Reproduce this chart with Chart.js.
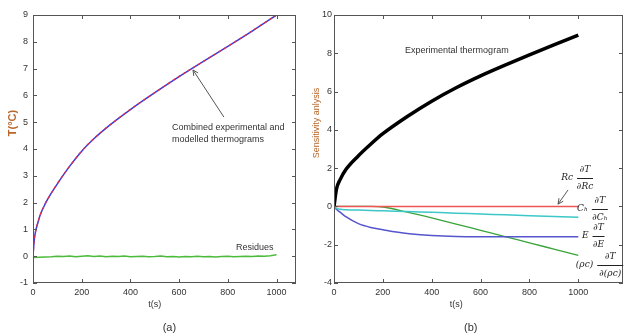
<!DOCTYPE html>
<html>
<head>
<meta charset="utf-8">
<script src="https://cdn.jsdelivr.net/npm/chart.js@4.4.0/dist/chart.umd.min.js"></script>
<style>
  body { margin: 0; background: #fff; }
  #chartA { position: absolute; left: 0; top: 0; }
  #chartB { position: absolute; left: 310px; top: 0; }
</style>
</head>
<body>
<canvas id="chartA" width="310" height="336"></canvas>
<canvas id="chartB" width="315" height="336"></canvas>
<script>
// (a) thermograms
const timeA = [0, 5, 10, 20, 30, 50, 75, 100, 150, 200, 250, 300, 400, 500, 600, 700, 800, 900, 1000];
const tempModel = [0, 0.6, 0.9, 1.25, 1.55, 1.95, 2.35, 2.7, 3.35, 3.92, 4.38, 4.78, 5.47, 6.1, 6.7, 7.27, 7.83, 8.4, 9.0];
const tempExp = [0, 0.62, 0.9, 1.26, 1.55, 1.96, 2.35, 2.71, 3.35, 3.92, 4.39, 4.78, 5.48, 6.1, 6.71, 7.27, 7.83, 8.41, 9.0];
const timeRes = [0, 25, 50, 75, 100, 125, 150, 175, 200, 225, 250, 275, 300, 325, 350, 375, 400, 425, 450, 475, 500,
                 525, 550, 575, 600, 625, 650, 675, 700, 725, 750, 775, 800, 825, 850, 875, 900, 925, 950, 975, 1000];
const residues = [-0.05, -0.04, -0.03, -0.02, 0.0, -0.01, 0.01, -0.02, 0.0, 0.02, -0.01, 0.01, -0.02, 0.0, -0.01, 0.01, -0.02, -0.01, 0.0, -0.02, -0.01,
                  0.01, -0.02, -0.01, -0.03, -0.01, -0.02, 0.0, -0.02, -0.01, -0.03, -0.01, 0.0, -0.02, -0.01, 0.0, -0.01, 0.01, 0.0, 0.02, 0.05];
const xTicksA = [0, 200, 400, 600, 800, 1000];
const yTicksA = [-1, 0, 1, 2, 3, 4, 5, 6, 7, 8, 9];

// (b) sensitivity analysis
const timeB = [0, 10, 25, 50, 100, 150, 200, 300, 400, 500, 600, 700, 800, 900, 1000];
const expThermo = [0, 0.9, 1.4, 1.95, 2.65, 3.25, 3.8, 4.7, 5.5, 6.2, 6.82, 7.38, 7.92, 8.44, 8.95];
const sensRc = [0, 0, 0, 0, 0, 0, 0, 0, 0, 0, 0, 0, 0, 0, 0];
const sensCh = [0, -0.1, -0.15, -0.17, -0.19, -0.21, -0.23, -0.27, -0.31, -0.35, -0.4, -0.44, -0.49, -0.53, -0.57];
const sensE = [0, -0.15, -0.3, -0.55, -0.9, -1.1, -1.22, -1.42, -1.52, -1.57, -1.58, -1.58, -1.58, -1.58, -1.58];
const sensRho = [0, 0, 0, 0, 0, 0, -0.03, -0.3, -0.6, -0.92, -1.25, -1.58, -1.9, -2.23, -2.56];
const xTicksB = [0, 200, 400, 600, 800, 1000];
const yTicksB = [-4, -2, 0, 2, 4, 6, 8, 10];

const pts = (xs, ys) => xs.map((v, i) => ({ x: v, y: ys[i] }));
const tickFont = { family: "'Liberation Sans Narrow', 'Liberation Sans', Arial", size: 9 };

// box round the plot with inward ticks, like matlab
const frame = {
  id: 'frame',
  afterDraw(chart) {
    const { ctx, chartArea: a, scales: { x, y } } = chart;
    ctx.save();
    ctx.strokeStyle = '#555';
    ctx.lineWidth = 1;
    ctx.strokeRect(a.left + 0.5, a.top + 0.5, a.right - a.left - 1, a.bottom - a.top - 1);
    ctx.beginPath();
    x.ticks.forEach(t => {
      const px = Math.round(x.getPixelForValue(t.value)) + 0.5;
      ctx.moveTo(px, a.bottom); ctx.lineTo(px, a.bottom - 4);
      ctx.moveTo(px, a.top); ctx.lineTo(px, a.top + 4);
    });
    y.ticks.forEach(t => {
      const py = Math.round(y.getPixelForValue(t.value)) + 0.5;
      ctx.moveTo(a.left, py); ctx.lineTo(a.left + 4, py);
      ctx.moveTo(a.right, py); ctx.lineTo(a.right - 4, py);
    });
    ctx.stroke();
    ctx.restore();
  }
};

// titles, captions and notes
const notes = {
  id: 'notes',
  afterDraw(chart, args, o) {
    const { ctx, chartArea: a, scales: { x, y } } = chart;
    const X = v => x.getPixelForValue(v), Y = v => y.getPixelForValue(v);
    ctx.save();
    ctx.textBaseline = 'middle';
    // y title
    ctx.save();
    ctx.translate(o.yTitleX, (a.top + a.bottom) / 2 - 26);
    ctx.rotate(-Math.PI / 2);
    ctx.textAlign = 'center';
    ctx.fillStyle = '#b8662a';
    ctx.font = o.yTitleFont;
    ctx.fillText(o.yTitle, 0, 0);
    ctx.restore();
    // x title and caption
    ctx.textAlign = 'center';
    ctx.fillStyle = '#333';
    ctx.font = "9px 'Liberation Sans Narrow', 'Liberation Sans'";
    ctx.fillText('t(s)', X(500), 305);
    ctx.font = "11px 'Liberation Sans', Arial";
    ctx.fillText(o.caption, X(560), 328);
    // plain text notes
    ctx.textAlign = 'left';
    ctx.font = "9px 'Liberation Sans Narrow', 'Liberation Sans'";
    (o.texts || []).forEach(t => ctx.fillText(t.text, X(t.x), Y(t.y)));
    // arrows
    ctx.strokeStyle = '#555';
    ctx.lineWidth = 1;
    (o.arrows || []).forEach(ar => {
      const x0 = X(ar.from[0]), y0 = Y(ar.from[1]), x1 = X(ar.to[0]), y1 = Y(ar.to[1]);
      const ang = Math.atan2(y1 - y0, x1 - x0);
      ctx.beginPath(); ctx.moveTo(x0, y0); ctx.lineTo(x1, y1); ctx.stroke();
      ctx.beginPath();
      ctx.moveTo(x1 - 6 * Math.cos(ang - 0.45), y1 - 6 * Math.sin(ang - 0.45));
      ctx.lineTo(x1, y1);
      ctx.lineTo(x1 - 6 * Math.cos(ang + 0.45), y1 - 6 * Math.sin(ang + 0.45));
      ctx.stroke();
    });
    // derivative labels
    ctx.fillStyle = '#222';
    ctx.strokeStyle = '#222';
    (o.fracs || []).forEach(f => {
      const px = X(f.x), py = Y(f.y);
      ctx.font = "italic 9px 'DejaVu Serif', 'Liberation Serif'";
      ctx.textAlign = 'left';
      ctx.fillText(f.pre, px, py);
      const cx = px + ctx.measureText(f.pre).width + 4 + f.w / 2;
      ctx.textAlign = 'center';
      ctx.fillText('∂T', cx, py - 8);
      ctx.fillText(f.den, cx, py + 9);
      ctx.beginPath();
      ctx.moveTo(cx - f.w / 2, Math.round(py) + 0.5);
      ctx.lineTo(cx + f.w / 2, Math.round(py) + 0.5);
      ctx.stroke();
    });
    ctx.restore();
  }
};

function scalesFor(xMax, xTicks, yMin, yMax, yTicks, yWidth, yPad) {
  return {
    x: {
      type: 'linear', min: 0, max: xMax,
      grid: { display: false, drawTicks: false },
      border: { display: false },
      ticks: { font: tickFont, color: '#333', padding: 4, maxRotation: 0, callback: v => String(v) },
      afterBuildTicks: s => { s.ticks = xTicks.map(v => ({ value: v })); },
      afterFit: s => { s.height = 53; }
    },
    y: {
      type: 'linear', min: yMin, max: yMax,
      grid: { display: false, drawTicks: false },
      border: { display: false },
      ticks: { font: tickFont, color: '#333', padding: yPad, callback: v => String(v) },
      afterBuildTicks: s => { s.ticks = yTicks.map(v => ({ value: v })); },
      afterFit: s => { s.width = yWidth; }
    }
  };
}

const line = (data, color, width, extra) => Object.assign({
  data: data, borderColor: color, borderWidth: width, pointRadius: 0,
  cubicInterpolationMode: 'monotone', fill: false
}, extra || {});

new Chart(document.getElementById('chartA'), {
  type: 'line',
  data: {
    datasets: [
      line(pts(timeA, tempExp), '#e0304a', 1.3, { borderDash: [3, 3] }),
      line(pts(timeA, tempModel), '#3a3ad8', 1.5),
      line(pts(timeRes, residues), '#4cbb3c', 1.5, { cubicInterpolationMode: 'default', tension: 0 })
    ]
  },
  options: {
    responsive: false, animation: false, devicePixelRatio: 1,
    layout: { padding: { top: 15, right: 14, left: 0, bottom: 0 } },
    scales: scalesFor(1080, xTicksA, -1, 9, yTicksA, 33, 5),
    plugins: {
      legend: { display: false }, tooltip: { enabled: false },
      notes: {
        yTitle: 'T(°C)', yTitleX: 13, yTitleFont: "bold 11px 'Liberation Sans', Arial", caption: '(a)',
        texts: [
          { text: 'Combined experimental and', x: 571, y: 4.82 },
          { text: 'modelled thermograms', x: 571, y: 4.34 },
          { text: 'Residues', x: 834, y: 0.34 }
        ],
        arrows: [{ from: [784, 5.19], to: [657, 6.95] }]
      }
    }
  },
  plugins: [frame, notes]
});

new Chart(document.getElementById('chartB'), {
  type: 'line',
  data: {
    datasets: [
      line(pts(timeB, expThermo), '#000', 3.5),
      line(pts(timeB, sensRc), '#f05555', 1.5),
      line(pts(timeB, sensCh), '#3cc8c8', 1.5),
      line(pts(timeB, sensE), '#5555cc', 1.5),
      line(pts(timeB, sensRho), '#3aa43a', 1.3)
    ]
  },
  options: {
    responsive: false, animation: false, devicePixelRatio: 1,
    layout: { padding: { top: 15, right: 2, left: 0, bottom: 0 } },
    scales: scalesFor(1183, xTicksB, -4, 10, yTicksB, 24, 2),
    plugins: {
      legend: { display: false }, tooltip: { enabled: false },
      notes: {
        yTitle: 'Sensitivity anlysis', yTitleX: 7, yTitleFont: "9px 'Liberation Sans Narrow', 'Liberation Sans'", caption: '(b)',
        texts: [{ text: 'Experimental thermogram', x: 291, y: 8.12 }],
        arrows: [{ from: [958, 0.86], to: [917, 0.12] }],
        fracs: [
          { pre: 'Rc', den: '∂Rc', w: 16, x: 930, y: 1.48 },
          { pre: 'Cₕ', den: '∂Cₕ', w: 16, x: 995, y: -0.12 },
          { pre: 'E', den: '∂E', w: 12, x: 1015, y: -1.55 },
          { pre: '(ρc)', den: '∂(ρc)', w: 26, x: 990, y: -3.05 }
        ]
      }
    }
  },
  plugins: [frame, notes]
});
</script>
</body>
</html>
